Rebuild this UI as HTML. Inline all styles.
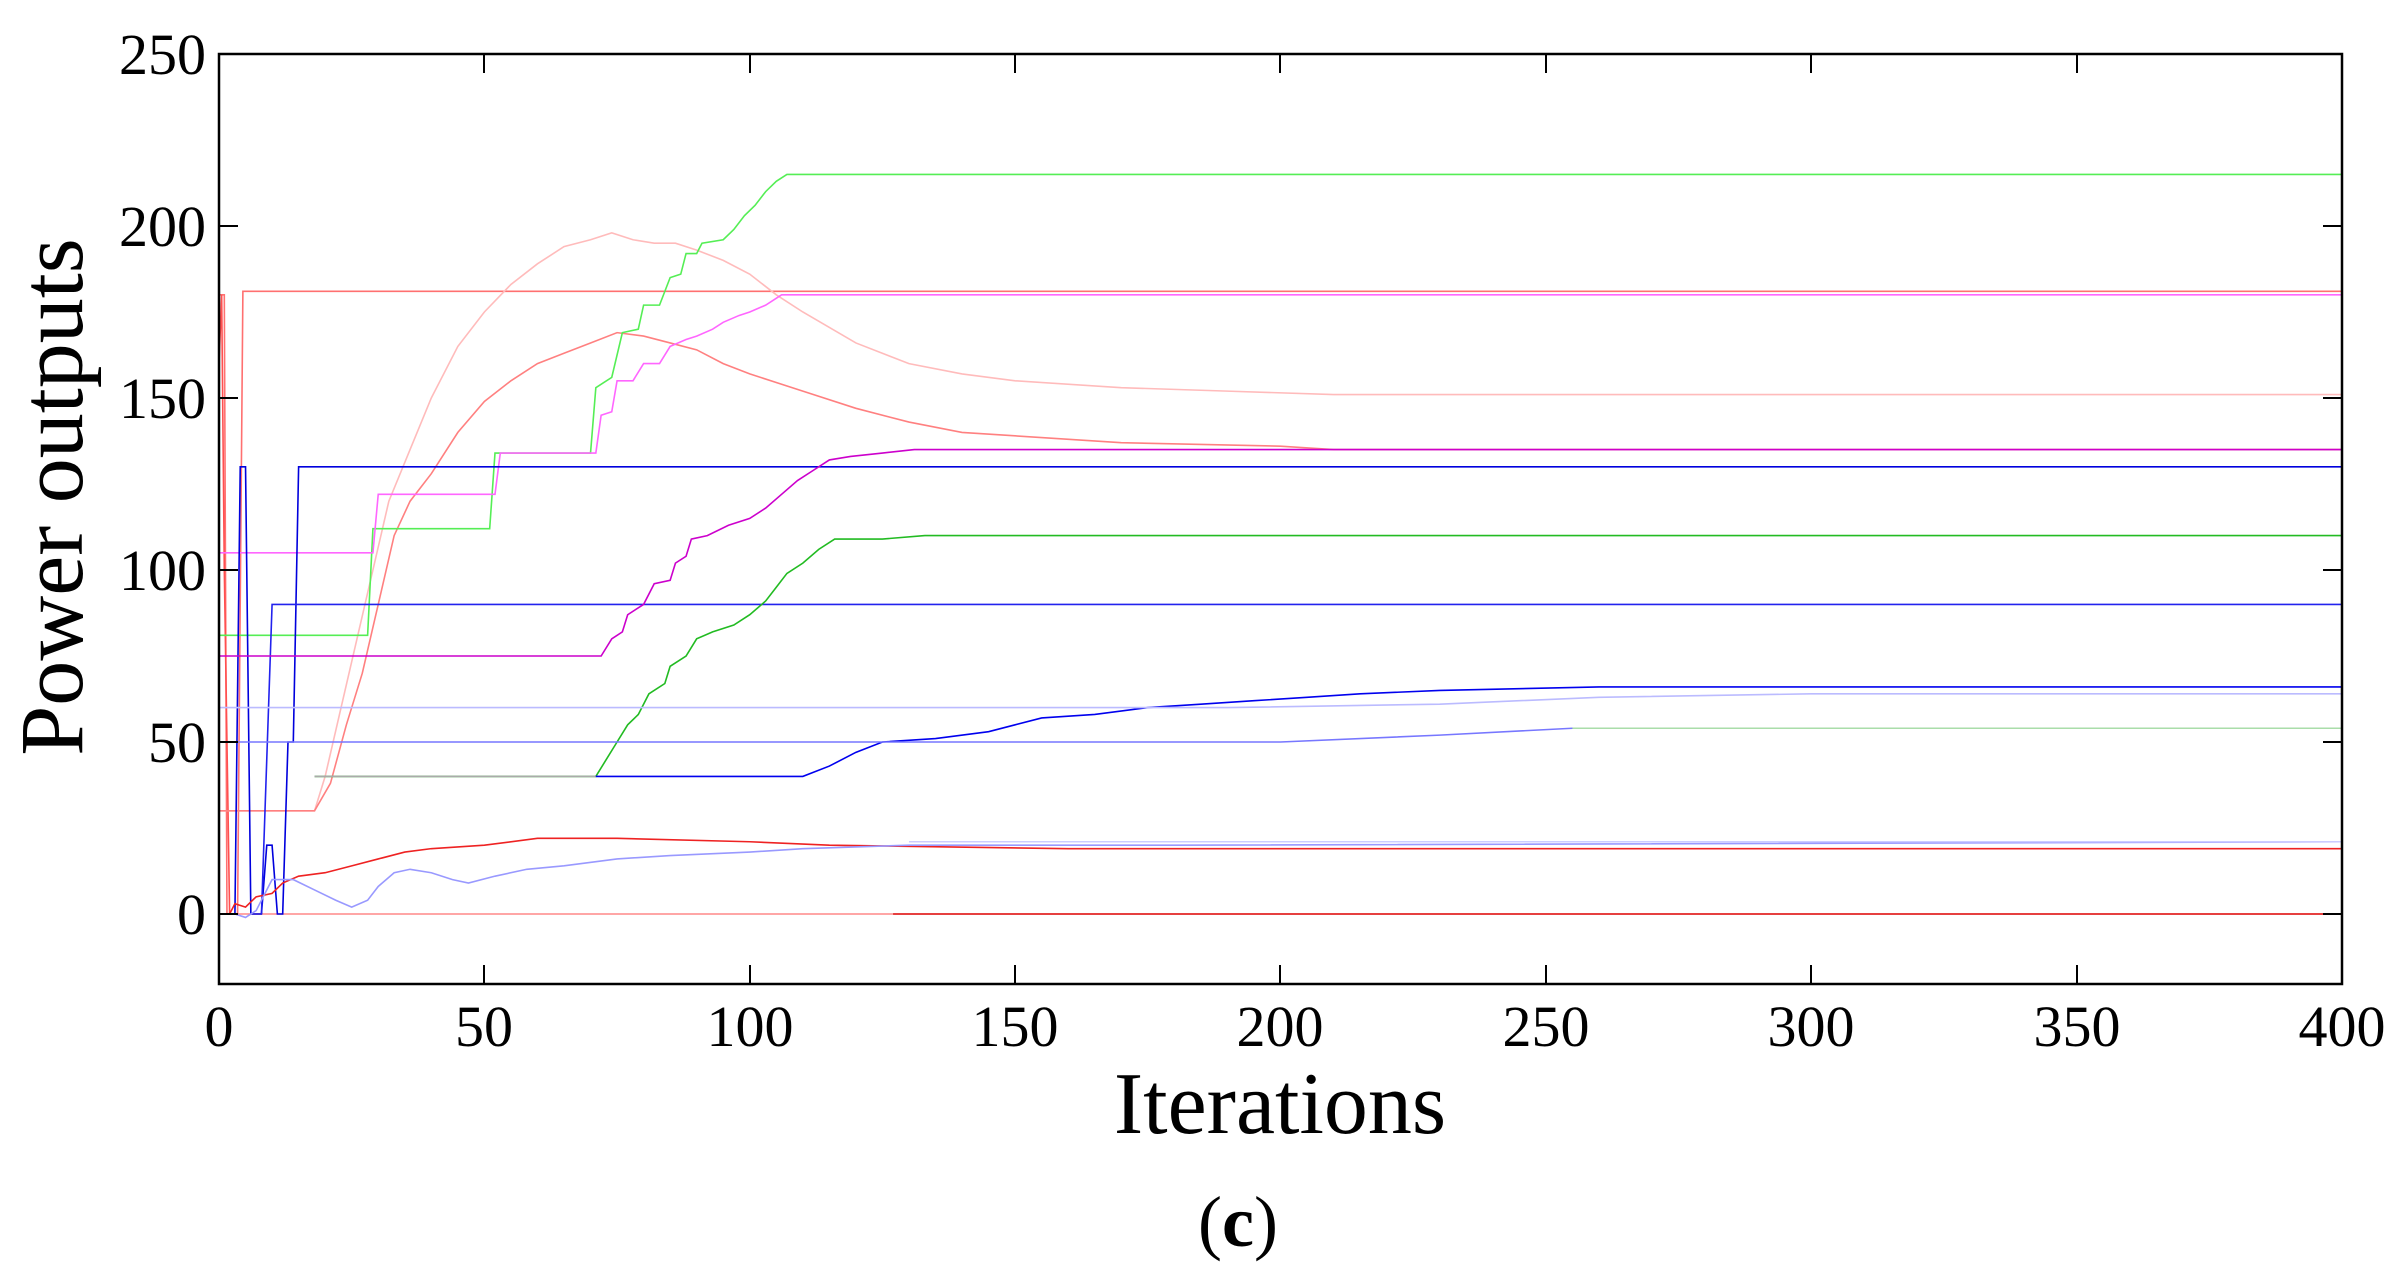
<!DOCTYPE html>
<html><head><meta charset="utf-8"><style>
html,body{margin:0;padding:0;background:#fff;}
svg{display:block;}
text{font-family:"Liberation Serif",serif;fill:#000;}
.s{fill:none;stroke-width:1.6;vector-effect:non-scaling-stroke;stroke-linejoin:miter;}
</style></head><body>
<svg width="2405" height="1275" viewBox="0 0 2405 1275" xmlns="http://www.w3.org/2000/svg">
<rect width="2405" height="1275" fill="#fff"/>
<g transform="translate(219,914) scale(5.3075,-3.44)">
<polyline class="s" stroke="#ff8888" points="0,0 127,0"/>
<polyline class="s" stroke="#dd0000" points="127,0 400,0"/>
<polyline class="s" stroke="#ff7070" points="0,180 1,180 1.5,0 3.5,0 4.5,181 400,181"/>
<polyline class="s" stroke="#ff5050" points="0,160 0.5,180 1,100 2,0 2.5,0"/>
<polyline class="s" stroke="#ffbbbb" points="0,30 18,30 20,40 23,60 26,80 29,100 32,120 36,135 40,150 45,165 50,175 55,183 60,189 65,194 70,196 74,198 78,196 82,195 86,195 90,193 95,190 100,186 105,180 110,175 120,166 130,160 140,157 150,155 170,153 190,152 210,151 400,151"/>
<polyline class="s" stroke="#ff8080" points="0,30 18,30 21,38 24,55 27,70 30,90 33,110 36,120 40,128 45,140 50,149 55,155 60,160 65,163 70,166 75,169 80,168 85,166 90,164 95,160 100,157 110,152 120,147 130,143 140,140 150,139 170,137 200,136 210,135 400,135"/>
<polyline class="s" stroke="#55ee55" points="0,81 28,81 29,112 51,112 52,134 70,134 71,153 74,156 76,169 79,170 80,177 83,177 85,185 87,186 88,192 90,192 91,195 95,196 97,199 99,203 101,206 103,210 105,213 107,215 400,215"/>
<polyline class="s" stroke="#ff66ff" points="0,105 29,105 30,122 52,122 53,134 71,134 72,145 74,146 75,155 78,155 80,160 83,160 85,165 88,167 90,168 93,170 95,172 98,174 100,175 103,177 106,180 400,180"/>
<polyline class="s" stroke="#0000dd" points="0,0 3,0 4,130 5,130 6,0 8,0 9,20 10,20 11,0 12,0 13,50 14,50 15,130 400,130"/>
<polyline class="s" stroke="#2222ee" points="8,0 10,90 400,90"/>
<polyline class="s" stroke="#cc00cc" points="0,75 72,75 74,80 76,82 77,87 80,90 82,96 85,97 86,102 88,104 89,109 92,110 96,113 100,115 103,118 106,122 109,126 112,129 115,132 119,133 125,134 131,135 400,135"/>
<polyline class="s" stroke="#22bb22" points="18,40 71,40 73,45 75,50 77,55 79,58 81,64 84,67 85,72 88,75 90,80 93,82 97,84 100,87 103,91 105,95 107,99 110,102 113,106 116,109 125,109 133,110 400,110"/>
<polyline class="s" stroke="#aaaaaa" points="18,40 71,40"/>
<polyline class="s" stroke="#0000ee" points="71,40 110,40 115,43 120,47 125,50 135,51 145,53 150,55 155,57 165,58 175,60 185,61 195,62 205,63 215,64 230,65 260,66 400,66"/>
<polyline class="s" stroke="#bbbbff" points="0,60 190,60 230,61 260,63 300,64 400,64"/>
<polyline class="s" stroke="#7777ff" points="0,50 200,50 230,52 255,54 400,54"/>
<polyline class="s" stroke="#aaddaa" points="255,54 400,54"/>
<polyline class="s" stroke="#ee2222" points="0,0 2,0 3,3 5,2 7,5 10,6 12,9 15,11 20,12 25,14 30,16 35,18 40,19 50,20 60,22 75,22 100,21 115,20 160,19 400,19"/>
<polyline class="s" stroke="#9999ff" points="3,0 5,-1 7,1 10,10 14,10 18,7 22,4 25,2 28,4 30,8 33,12 36,13 40,12 44,10 47,9 52,11 58,13 65,14 75,16 85,17 100,18 110,19 130,20 180,20 400,21"/>
<polyline class="s" stroke="#ccccff" points="130,21 400,21"/>
</g>
<rect x="219" y="54" width="2123" height="930" fill="none" stroke="#000" stroke-width="2.5"/>
<g stroke="#000" stroke-width="2">
<line x1="484" y1="984" x2="484" y2="965"/><line x1="750" y1="984" x2="750" y2="965"/><line x1="1015" y1="984" x2="1015" y2="965"/><line x1="1280" y1="984" x2="1280" y2="965"/><line x1="1546" y1="984" x2="1546" y2="965"/><line x1="1811" y1="984" x2="1811" y2="965"/><line x1="2077" y1="984" x2="2077" y2="965"/>
<line x1="484" y1="54" x2="484" y2="73"/><line x1="750" y1="54" x2="750" y2="73"/><line x1="1015" y1="54" x2="1015" y2="73"/><line x1="1280" y1="54" x2="1280" y2="73"/><line x1="1546" y1="54" x2="1546" y2="73"/><line x1="1811" y1="54" x2="1811" y2="73"/><line x1="2077" y1="54" x2="2077" y2="73"/>
<line x1="219" y1="914" x2="238" y2="914"/><line x1="219" y1="742" x2="238" y2="742"/><line x1="219" y1="570" x2="238" y2="570"/><line x1="219" y1="398" x2="238" y2="398"/><line x1="219" y1="226" x2="238" y2="226"/>
<line x1="2342" y1="914" x2="2323" y2="914"/><line x1="2342" y1="742" x2="2323" y2="742"/><line x1="2342" y1="570" x2="2323" y2="570"/><line x1="2342" y1="398" x2="2323" y2="398"/><line x1="2342" y1="226" x2="2323" y2="226"/>
</g>
<g font-size="58" text-anchor="end">
<text x="206" y="934">0</text><text x="206" y="762">50</text><text x="206" y="590">100</text><text x="206" y="418">150</text><text x="206" y="246">200</text><text x="206" y="74">250</text>
</g>
<g font-size="58" text-anchor="middle">
<text x="219" y="1046">0</text><text x="484" y="1046">50</text><text x="750" y="1046">100</text><text x="1015" y="1046">150</text><text x="1280" y="1046">200</text><text x="1546" y="1046">250</text><text x="1811" y="1046">300</text><text x="2077" y="1046">350</text><text x="2342" y="1046">400</text>
</g>
<text x="1280" y="1133" font-size="88" text-anchor="middle">Iterations</text>
<text transform="translate(82,497) rotate(-90)" font-size="90" text-anchor="middle">Power outputs</text>
<text x="1238" y="1246" font-size="72" text-anchor="middle">(<tspan font-weight="bold">c</tspan>)</text>
</svg>
</body></html>
